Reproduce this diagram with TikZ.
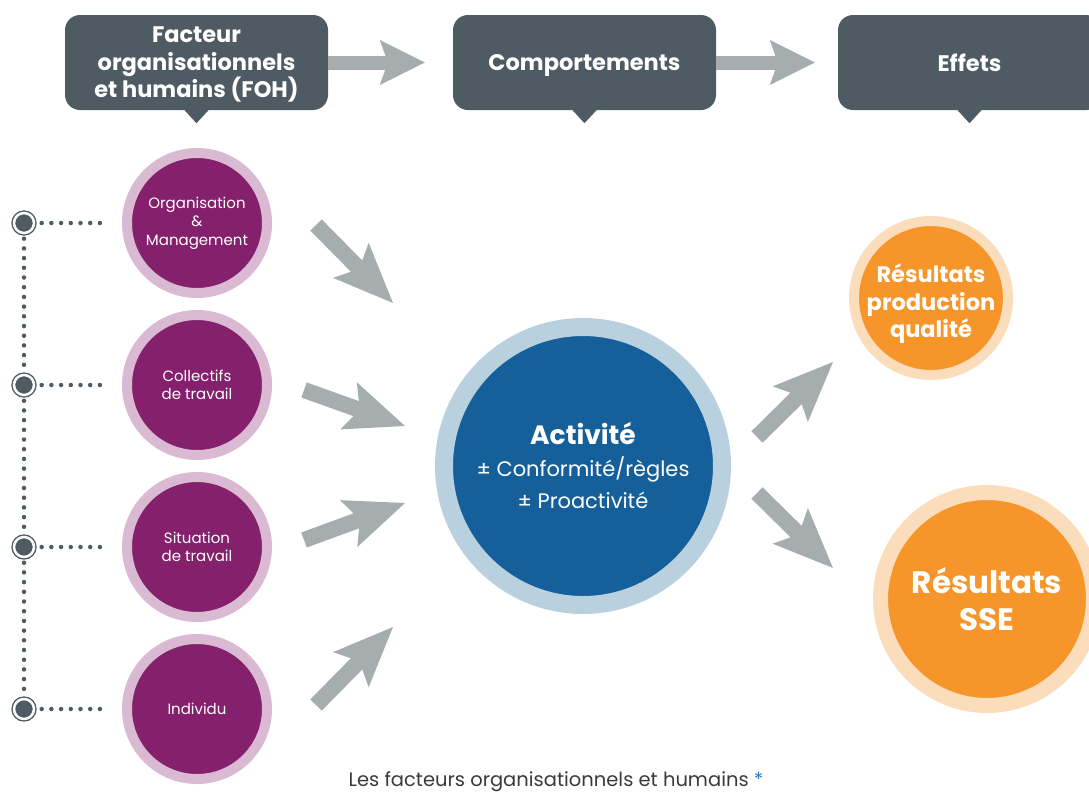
\documentclass[tikz,border=0pt]{standalone}
\usepackage{fontspec}
\setmainfont{Poppins}
\usetikzlibrary{arrows.meta,positioning}

\definecolor{slate}{HTML}{4E5B63}
\definecolor{arrowgray}{HTML}{A6ADAF}
\definecolor{plum}{HTML}{84206C}
\definecolor{plumring}{HTML}{DAB9D3}
\definecolor{ocean}{HTML}{15609A}
\definecolor{oceanring}{HTML}{B9D1DF}
\definecolor{amber}{HTML}{F6962A}
\definecolor{amberring}{HTML}{FBDDBC}
\definecolor{starblue}{HTML}{2A7AC0}
\definecolor{captiontext}{HTML}{3A3A3A}

\tikzset{
  header/.style={rounded corners=15pt, fill=slate, minimum width=263pt, minimum height=95pt,
    inner sep=0pt, text depth=0pt, text=white, align=center, font=\bfseries\fontsize{22.5}{27.5}\selectfont},
  factor/.style={circle, fill=plum, draw=plumring, line width=10pt, minimum size=140pt,
    inner sep=0pt, text=white, align=center, font=\fontsize{15}{18.5}\selectfont},
  activity/.style={circle, fill=ocean, draw=oceanring, line width=18pt, minimum size=278pt,
    inner sep=0pt, text=white, align=center, font=\fontsize{21}{32.5}\selectfont},
  result/.style={circle, fill=amber, draw=amberring, inner sep=0pt},
  resulttext/.style={text=white, align=center, inner sep=0pt},
  bullet/.style={circle, fill=slate, draw=slate, line width=1.4pt, double=white,
    double distance=2.5pt, minimum size=20pt, inner sep=0pt},
  dotline/.style={slate, line width=4.5pt, line cap=round, dash pattern=on 0pt off 9.7pt},
  toparrow/.style={arrowgray, line width=14pt,
    -{Stealth[length=45pt, width=45pt, inset=8pt, line width=0pt]}},
  bigarrow/.style={arrowgray, line width=16pt,
    -{Stealth[length=60pt, width=50pt, inset=12pt, line width=0pt]}}
}

\begin{document}
\begin{tikzpicture}[x=1pt, y=-1pt]
\useasboundingbox (0,0) rectangle (1089,793);
\clip (0,0) rectangle (1089,793);

% header boxes
\node[header] (foh) at (196.5,62.5) {Facteur\\organisationnels\\et humains (FOH)};
\node[header] (comp) at (584.5,62.5) {Comportements};
\node[header] (eff) at (969.5,62.5) {Effets};
\foreach \b in {foh,comp,eff}
  \fill[slate] ([xshift=-12pt]\b.south) -- ([xshift=12pt]\b.south) -- ([yshift=-13pt]\b.south) -- cycle;

\draw[toparrow, shorten >=28pt] (foh.east) -- (comp.west);
\draw[toparrow, shorten >=23pt] (comp.east) -- (eff.west);

% factors
\node[factor] (org) at (197,223) {Organisation\\\&\\Management};
\node[factor] (coll) at (197,385) {Collectifs\\de travail};
\node[factor] (sit) at (197,547) {Situation\\de travail};
\node[factor] (indiv) at (197,709) {Individu};

% bullets and dotted links
\node[bullet] (b1) at (24,223) {};
\node[bullet] (b2) at (24,385) {};
\node[bullet] (b3) at (24,547) {};
\node[bullet] (b4) at (24,709) {};
\draw[dotline, shorten <=7pt, shorten >=18pt] (b1) -- (org);
\draw[dotline, shorten <=7pt, shorten >=18pt] (b2) -- (coll);
\draw[dotline, shorten <=7pt, shorten >=18pt] (b3) -- (sit);
\draw[dotline, shorten <=7pt, shorten >=18pt] (b4) -- (indiv);
\draw[dotline, shorten <=5pt, shorten >=5pt] (b1) -- (b2);
\draw[dotline, shorten <=5pt, shorten >=5pt] (b2) -- (b3);
\draw[dotline, shorten <=5pt, shorten >=5pt] (b3) -- (b4);

% activity
\node[activity] (act) at (583,466)
  {{\bfseries\fontsize{26.5}{30}\selectfont Activité}\\[-1pt] ± Conformité/règles\\ ± Proactivité};

% results
\node[result, line width=10pt, minimum size=154pt] (prod) at (931,298) {};
\node[resulttext, font=\bfseries\fontsize{22.5}{27.5}\selectfont] (prodtext) at ([yshift=-6pt]prod)
  {Résultats\\production\\qualité};
\node[result, line width=15pt, minimum size=213pt] (sse) at (987,599) {};
\node[resulttext, font=\bfseries\fontsize{31}{37}\selectfont] (ssetext) at (sse)
  {Résultats\\SSE};

% block arrows
\foreach \n/\sx/\sy/\ex/\ey in {a1/316/225/393/303, a2/304/390/405/426, a3/304/540/405/503,
    a4/316/705/393/627, a5/757/437/833/362, a6/757/493/833/568} {
  \coordinate (\n s) at (\sx,\sy);
  \coordinate (\n e) at (\ex,\ey);
  \draw[bigarrow] (\n s) -- (\n e);
}

% caption
\node[anchor=base, text=captiontext, font=\fontsize{19.5}{21}\selectfont] (caption) at (556,786)
  {Les facteurs organisationnels et humains {\color{starblue}*}};
\end{tikzpicture}
\end{document}
